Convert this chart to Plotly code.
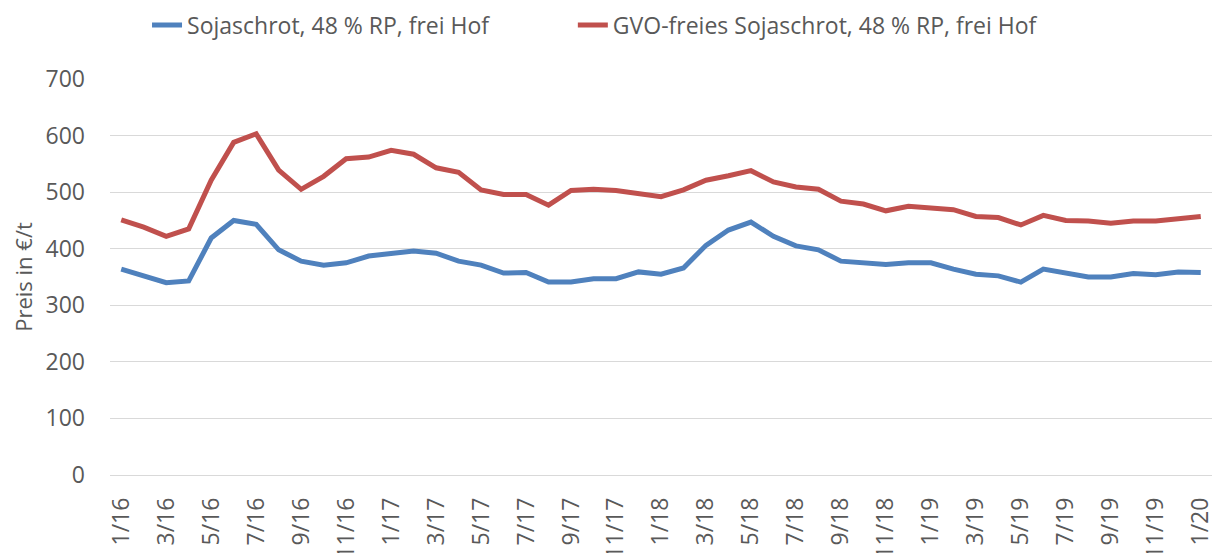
import plotly.graph_objects as go

months = []
for yr in range(16, 20):
    for m in range(1, 13):
        months.append(f"{m}/{yr}")
months.append("1/20")

soja = [364, 351, 340, 343, 419, 450, 443, 398, 378, 371, 375, 387,
        391, 396, 392, 378, 371, 357, 358, 341, 341, 347, 347, 359,
        355, 366, 406, 433, 447, 422, 405, 398, 378, 376, 372, 375,
        375, 364, 355, 352, 341, 364, 357, 350, 350, 356, 354, 359,
        358]

gvo = [451, 438, 422, 435, 521, 588, 603, 539, 505, 528, 559, 562,
       574, 567, 543, 535, 504, 496, 496, 477, 503, 505, 503, 497,
       492, 504, 521, 529, 538, 518, 509, 505, 484, 479, 467, 475,
       473, 469, 457, 455, 442, 459, 450, 449, 445, 449, 449, 454,
       457]

names = ["Sojaschrot, 48 % RP, frei Hof", "GVO-freies Sojaschrot, 48 % RP, frei Hof"]
colors = ["#4F81BD", "#C0504D"]
legends = ["legend", "legend2"]

fig = go.Figure()
for vals, name, col, lg in zip([soja, gvo], names, colors, legends):
    fig.add_trace(go.Scatter(x=months, y=vals, name=name, mode="lines",
                             line=dict(color=col, width=5), legend=lg,
                             showlegend=True))

font_fam = "Open Sans, Liberation Sans, sans-serif"
leg_common = dict(orientation="h", xref="paper", yref="paper",
                  xanchor="left", y=1.136, yanchor="middle",
                  font=dict(size=23, color="#595959"), bgcolor="rgba(0,0,0,0)")
fig.update_layout(
    width=1212, height=545,
    showlegend=True,
    margin=dict(l=102, r=8, t=71, b=78, autoexpand=False),
    paper_bgcolor="white", plot_bgcolor="white",
    font=dict(family=font_fam, color="#595959", size=23),
    legend=dict(x=0.0336, **leg_common),
    legend2=dict(x=0.420, **leg_common),
    xaxis=dict(type="category", range=[-0.5, len(months) - 0.5],
               tickvals=months[::2], ticktext=months[::2], tickangle=-90,
               showgrid=False, showline=False, ticks="", automargin=False,
               ticklabelstandoff=17,
               tickfont=dict(size=23, color="#595959")),
    yaxis=dict(range=[0, 700], dtick=100, showgrid=True, gridcolor="#D9D9D9",
               gridwidth=1.3, zeroline=True, zerolinecolor="#D9D9D9", zerolinewidth=1.3,
               ticks="", automargin=False, ticklabelstandoff=24,
               tickfont=dict(size=23, color="#595959")),
)
fig.update_yaxes(title=dict(text="Preis in €/t", font=dict(size=22, color="#595959"), standoff=14))

fig.write_html("out.html")
